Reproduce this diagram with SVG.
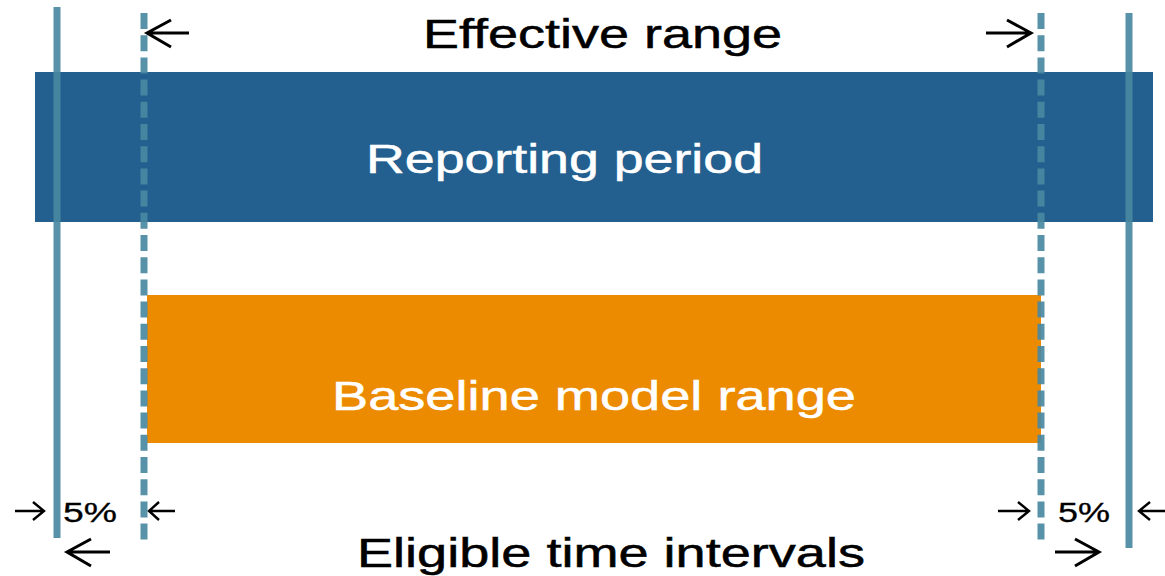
<svg xmlns="http://www.w3.org/2000/svg" width="1165" height="576" viewBox="0 0 1165 576">
<style>
.lbl{font-family:"Liberation Sans",Arial,sans-serif;font-size:41px;stroke-width:0.5px;}
.sm{font-family:"Liberation Sans",Arial,sans-serif;font-size:28px;fill:#000;stroke:#000;stroke-width:0.3px;}
.solid{stroke:#4A89A2;stroke-width:7;opacity:0.92;}
.dash{stroke:#4A89A2;stroke-width:7;stroke-dasharray:16 6.2;opacity:0.92;}
.arr{fill:none;stroke:#000;stroke-width:3;stroke-linecap:butt;stroke-linejoin:miter;}
.arrs{fill:none;stroke:#000;stroke-width:2.4;}
</style>
<rect width="1165" height="576" fill="#fff"/>
<g id="reporting-period">
<rect x="35" y="72" width="1118" height="150" fill="#23608F"/>
<text class="lbl" x="366" y="173" fill="#fff" stroke="#fff" textLength="397" lengthAdjust="spacingAndGlyphs">Reporting period</text>
</g>
<g id="baseline-model-range">
<rect x="147" y="295" width="894" height="148" fill="#EC8A00"/>
<text class="lbl" x="332" y="410" fill="#fff" stroke="#fff" textLength="524" lengthAdjust="spacingAndGlyphs">Baseline model range</text>
</g>
<g id="boundaries">
<line class="solid" x1="57" y1="7" x2="57" y2="538"/>
<line class="dash" x1="144" y1="13" x2="144" y2="544"/>
<line class="dash" x1="1041" y1="13" x2="1041" y2="544"/>
<line class="solid" x1="1129" y1="13" x2="1129" y2="548"/>
</g>
<g id="effective-range">
<text class="lbl" x="423" y="48" fill="#000" stroke="#000" textLength="359" lengthAdjust="spacingAndGlyphs">Effective range</text>
</g>
<g id="eligible-time-intervals">
<text class="lbl" x="357" y="567" fill="#000" stroke="#000" textLength="508" lengthAdjust="spacingAndGlyphs">Eligible time intervals</text>
</g>
<g id="pct-left">
<text class="sm" x="63" y="522" textLength="54" lengthAdjust="spacingAndGlyphs">5%</text>
</g>
<g id="pct-right">
<text class="sm" x="1058" y="522" textLength="52" lengthAdjust="spacingAndGlyphs">5%</text>
</g>
<g id="connectors">
<path class="arr" d="M189 33 H147 M171 20 L147 33 L171 47"/>
<path class="arr" d="M986 33 H1031 M1007 20 L1031 33 L1007 47"/>
<path class="arrs" d="M15 511 H44 M33 502 L44 511 L33 520"/>
<path class="arrs" d="M175 511 H149 M159 502 L149 511 L159 520"/>
<path class="arrs" d="M998 511 H1029 M1018 502 L1029 511 L1018 520"/>
<path class="arrs" d="M1165 511 H1139 M1150 502 L1139 511 L1150 520"/>
<path class="arr" d="M110 552 H67 M91 539 L67 552 L91 566"/>
<path class="arr" d="M1055 552 H1099 M1075 539 L1099 552 L1075 566"/>
</g>
</svg>
